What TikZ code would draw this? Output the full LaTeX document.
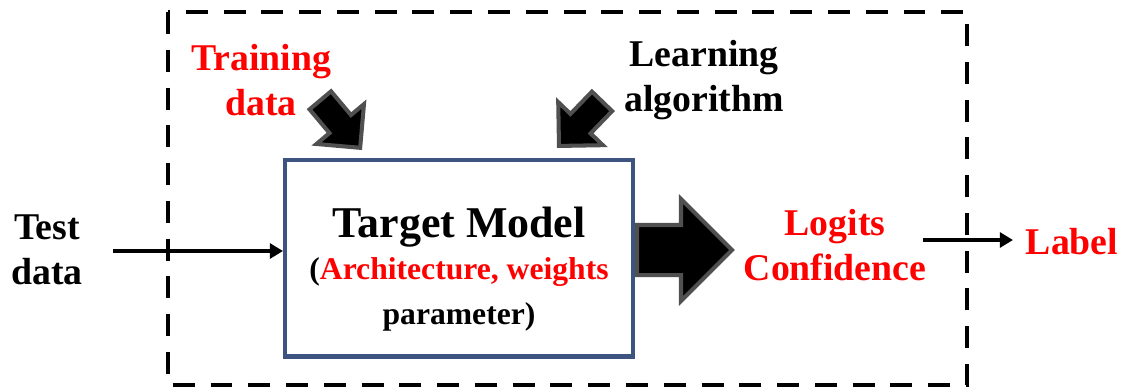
\documentclass[tikz,border=0pt]{standalone}
\usepackage{fontspec}
\setmainfont{Liberation Serif}
\usetikzlibrary{shapes.arrows,arrows.meta}
\definecolor{boxblue}{RGB}{61,83,128}
\definecolor{arrowgray}{RGB}{80,80,80}
\tikzset{
  txt/.style={font=\bfseries\fontsize{21.5}{25.5}\selectfont, align=center, inner sep=0pt},
  redtxt/.style={txt, text=red},
  modelbox/.style={draw=boxblue, line width=2.3pt, minimum width=6.96cm, minimum height=3.94cm, inner sep=0pt, align=center, font=\bfseries\fontsize{18}{22.5}\selectfont},
  blockarrow/.style={single arrow, draw=arrowgray, fill=black, line width=2.3pt, inner xsep=0pt},
  thinarrow/.style={line width=2.2pt, -{Triangle[length=7.5pt,width=8.5pt]}},
  dashbox/.style={line width=2.3pt, dash pattern=on 12.5pt off 9pt}
}
\begin{document}
\begin{tikzpicture}[x=0.02cm, y=-0.02cm]

        \useasboundingbox (0,0) rectangle (1122,389);

        % Le cadre en pointillés
        \draw[dashbox] (168,12) rectangle (967,385);

        % Le modèle cible
        \node[modelbox] (model) at (459,258) {\rule{0pt}{30pt}{\fontsize{25}{30}\selectfont Target Model}\\[1pt]
          (\textcolor{red}{Architecture, weights}\\[3pt]
          parameter)};

        % Les textes autour
        \node[txt] (test) at (47,250) {Test\\data};
        \node[redtxt] (train) at (261,80) {Training\\data};
        \node[txt] (learn) at (704,80) {Learning\\algorithm};
        \node[redtxt] (logits) at (835,245) {Logits\\Confidence};
        \node[redtxt] (label) at (1072,242) {Label};

        % Les grosses flèches
        \node[blockarrow, inner ysep=0.24cm, minimum height=1.24cm, single arrow head extend=0.34cm, rotate=-50, anchor=tip] (trainarr) at (362,150) {};
        \node[blockarrow, inner ysep=0.24cm, minimum height=1.24cm, single arrow head extend=0.34cm, rotate=-134, anchor=tip] (learnarr) at (557,148) {};
        \node[blockarrow, inner ysep=0.46cm, minimum height=1.9cm, single arrow head extend=0.52cm, anchor=tail] (outarr) at (model.east |- 0,250) {};

        % Les flèches fines
        \coordinate (tstart) at (113,251);
        \coordinate (lstart) at (923,240);
        \coordinate (lend) at (1013,240);
        \draw[thinarrow] (tstart) -- (tstart -| model.west);
        \draw[thinarrow] (lstart) -- (lend);

\end{tikzpicture}
\end{document}
